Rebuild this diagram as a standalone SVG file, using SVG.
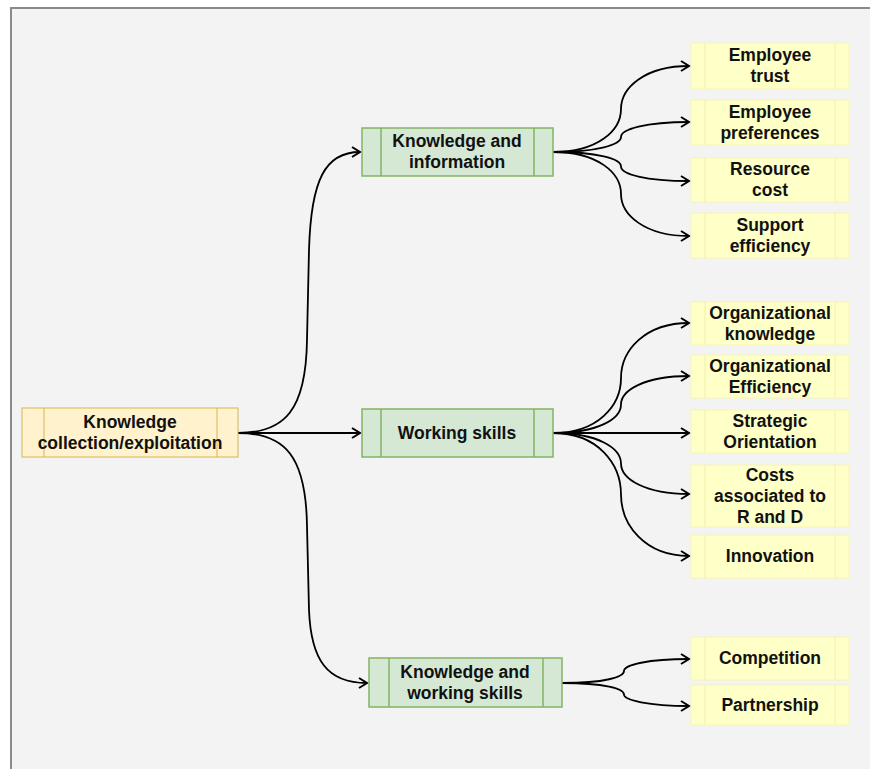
<svg xmlns="http://www.w3.org/2000/svg" width="870" height="769" viewBox="0 0 870 769">
  <defs>
    <marker id="open" markerUnits="userSpaceOnUse" markerWidth="14" markerHeight="14" refX="11" refY="7" orient="auto">
      <path d="M3,2 L11,7 L3,12" fill="none" stroke="#000" stroke-width="2" stroke-linejoin="miter"/>
    </marker>
    <style>
      .yel { fill: #fff2cc; stroke: #d6b656; stroke-width: 1; }
      .grn { fill: #d5e8d4; stroke: #82b366; stroke-width: 1.5; }
      .leaf { fill: #ffffc8; stroke: #f6f6b4; stroke-width: 1; }
      .div-y { stroke: #d6b656; stroke-width: 1; }
      .div-g { stroke: #82b366; stroke-width: 1.5; }
      .div-l { stroke: #f0f0b0; stroke-width: 1; }
      .lbl { font-family: "Liberation Sans", Arial, sans-serif; font-size: 17.5px; font-weight: bold; fill: #111; text-anchor: middle; }
      .edge { fill: none; stroke: #000; stroke-width: 1.8; marker-end: url(#open); }
    </style>
  </defs>

  <!-- canvas -->
  <rect x="0" y="0" width="870" height="769" fill="#ffffff"/>
  <rect x="11" y="8" width="875" height="775" fill="#f3f3f3" stroke="#8a8a8a" stroke-width="2"/>

  <!-- connectors -->
  <g id="connectors">
    <path class="edge" d="M238,433 C285,433 306,410 307,340 L309,250 C311,180 325,152 360,152"/>
    <path class="edge" d="M238,433 L360,433"/>
    <path class="edge" d="M238,433 C285,433 306,456 307,526 L309,610 C311,660 327,683 367,683"/>

    <path class="edge" d="M553,152 C598,152 621,130.5 621,109 C621,87.5 645,66 689,66"/>
    <path class="edge" d="M553,152 C598,152 621,144.5 621,137 C621,129.5 645,122 689,122"/>
    <path class="edge" d="M553,152 C598,152 621,159 621,166.5 C621,174 645,181 689,181"/>
    <path class="edge" d="M553,152 C598,152 621,173 621,194 C621,215 645,236 689,236"/>

    <path class="edge" d="M553,433 C598,433 621,405.5 621,378 C621,350.5 645,323 689,323"/>
    <path class="edge" d="M553,433 C598,433 621,419 621,404.5 C621,390 645,376 689,376"/>
    <path class="edge" d="M553,433 L689,433"/>
    <path class="edge" d="M553,433 C598,433 621,448 621,463.5 C621,479 645,494 689,494"/>
    <path class="edge" d="M553,433 C598,433 621,464 621,494.5 C621,525 645,556 689,556"/>

    <path class="edge" d="M562,683 C605,683 624,677 624,671 C624,665 648,659 689,659"/>
    <path class="edge" d="M562,683 C605,683 624,689 624,694.5 C624,700 648,706 689,706"/>
  </g>

  <!-- root -->
  <g id="root">
    <rect class="yel" x="22" y="408" width="216" height="49"/>
    <line class="div-y" x1="44" y1="408" x2="44" y2="457"/>
    <line class="div-y" x1="217" y1="408" x2="217" y2="457"/>
    <text class="lbl" x="130" y="428">Knowledge</text>
    <text class="lbl" x="130" y="449">collection/exploitation</text>
  </g>

  <!-- middle tier -->
  <g id="knowledge-information">
    <rect class="grn" x="362" y="128" width="191" height="48"/>
    <line class="div-g" x1="381" y1="128" x2="381" y2="176"/>
    <line class="div-g" x1="534" y1="128" x2="534" y2="176"/>
    <text class="lbl" x="457" y="147">Knowledge and</text>
    <text class="lbl" x="457" y="168">information</text>
  </g>

  <g id="working-skills">
    <rect class="grn" x="362" y="409" width="191" height="48"/>
    <line class="div-g" x1="381" y1="409" x2="381" y2="457"/>
    <line class="div-g" x1="534" y1="409" x2="534" y2="457"/>
    <text class="lbl" x="457" y="439">Working skills</text>
  </g>

  <g id="knowledge-working-skills">
    <rect class="grn" x="369" y="658" width="193" height="49"/>
    <line class="div-g" x1="389" y1="658" x2="389" y2="707"/>
    <line class="div-g" x1="543" y1="658" x2="543" y2="707"/>
    <text class="lbl" x="465" y="678">Knowledge and</text>
    <text class="lbl" x="465" y="699">working skills</text>
  </g>

  <!-- leaves -->
  <g id="employee-trust">
    <rect class="leaf" x="691" y="43" width="158" height="46"/>
    <line class="div-l" x1="705" y1="43" x2="705" y2="89"/>
    <line class="div-l" x1="835" y1="43" x2="835" y2="89"/>
    <text class="lbl" x="770" y="61">Employee</text>
    <text class="lbl" x="770" y="82">trust</text>
  </g>

  <g id="employee-preferences">
    <rect class="leaf" x="691" y="100" width="158" height="45"/>
    <line class="div-l" x1="705" y1="100" x2="705" y2="145"/>
    <line class="div-l" x1="835" y1="100" x2="835" y2="145"/>
    <text class="lbl" x="770" y="118">Employee</text>
    <text class="lbl" x="770" y="139">preferences</text>
  </g>

  <g id="resource-cost">
    <rect class="leaf" x="691" y="158" width="158" height="44"/>
    <line class="div-l" x1="705" y1="158" x2="705" y2="202"/>
    <line class="div-l" x1="835" y1="158" x2="835" y2="202"/>
    <text class="lbl" x="770" y="175">Resource</text>
    <text class="lbl" x="770" y="196">cost</text>
  </g>

  <g id="support-efficiency">
    <rect class="leaf" x="691" y="213" width="158" height="45"/>
    <line class="div-l" x1="705" y1="213" x2="705" y2="258"/>
    <line class="div-l" x1="835" y1="213" x2="835" y2="258"/>
    <text class="lbl" x="770" y="231">Support</text>
    <text class="lbl" x="770" y="252">efficiency</text>
  </g>

  <g id="organizational-knowledge">
    <rect class="leaf" x="691" y="302" width="158" height="43"/>
    <line class="div-l" x1="705" y1="302" x2="705" y2="345"/>
    <line class="div-l" x1="835" y1="302" x2="835" y2="345"/>
    <text class="lbl" x="770" y="319">Organizational</text>
    <text class="lbl" x="770" y="340">knowledge</text>
  </g>

  <g id="organizational-efficiency">
    <rect class="leaf" x="691" y="355" width="158" height="43"/>
    <line class="div-l" x1="705" y1="355" x2="705" y2="398"/>
    <line class="div-l" x1="835" y1="355" x2="835" y2="398"/>
    <text class="lbl" x="770" y="372">Organizational</text>
    <text class="lbl" x="770" y="393">Efficiency</text>
  </g>

  <g id="strategic-orientation">
    <rect class="leaf" x="691" y="410" width="158" height="43"/>
    <line class="div-l" x1="705" y1="410" x2="705" y2="453"/>
    <line class="div-l" x1="835" y1="410" x2="835" y2="453"/>
    <text class="lbl" x="770" y="427">Strategic</text>
    <text class="lbl" x="770" y="448">Orientation</text>
  </g>

  <g id="costs-rd">
    <rect class="leaf" x="691" y="465" width="158" height="62"/>
    <line class="div-l" x1="705" y1="465" x2="705" y2="527"/>
    <line class="div-l" x1="835" y1="465" x2="835" y2="527"/>
    <text class="lbl" x="770" y="481">Costs</text>
    <text class="lbl" x="770" y="502">associated to</text>
    <text class="lbl" x="770" y="523">R and D</text>
  </g>

  <g id="innovation">
    <rect class="leaf" x="691" y="535" width="158" height="43"/>
    <line class="div-l" x1="705" y1="535" x2="705" y2="578"/>
    <line class="div-l" x1="835" y1="535" x2="835" y2="578"/>
    <text class="lbl" x="770" y="562">Innovation</text>
  </g>

  <g id="competition">
    <rect class="leaf" x="691" y="637" width="158" height="43"/>
    <line class="div-l" x1="705" y1="637" x2="705" y2="680"/>
    <line class="div-l" x1="835" y1="637" x2="835" y2="680"/>
    <text class="lbl" x="770" y="664">Competition</text>
  </g>

  <g id="partnership">
    <rect class="leaf" x="691" y="685" width="158" height="40"/>
    <line class="div-l" x1="705" y1="685" x2="705" y2="725"/>
    <line class="div-l" x1="835" y1="685" x2="835" y2="725"/>
    <text class="lbl" x="770" y="711">Partnership</text>
  </g>
</svg>
